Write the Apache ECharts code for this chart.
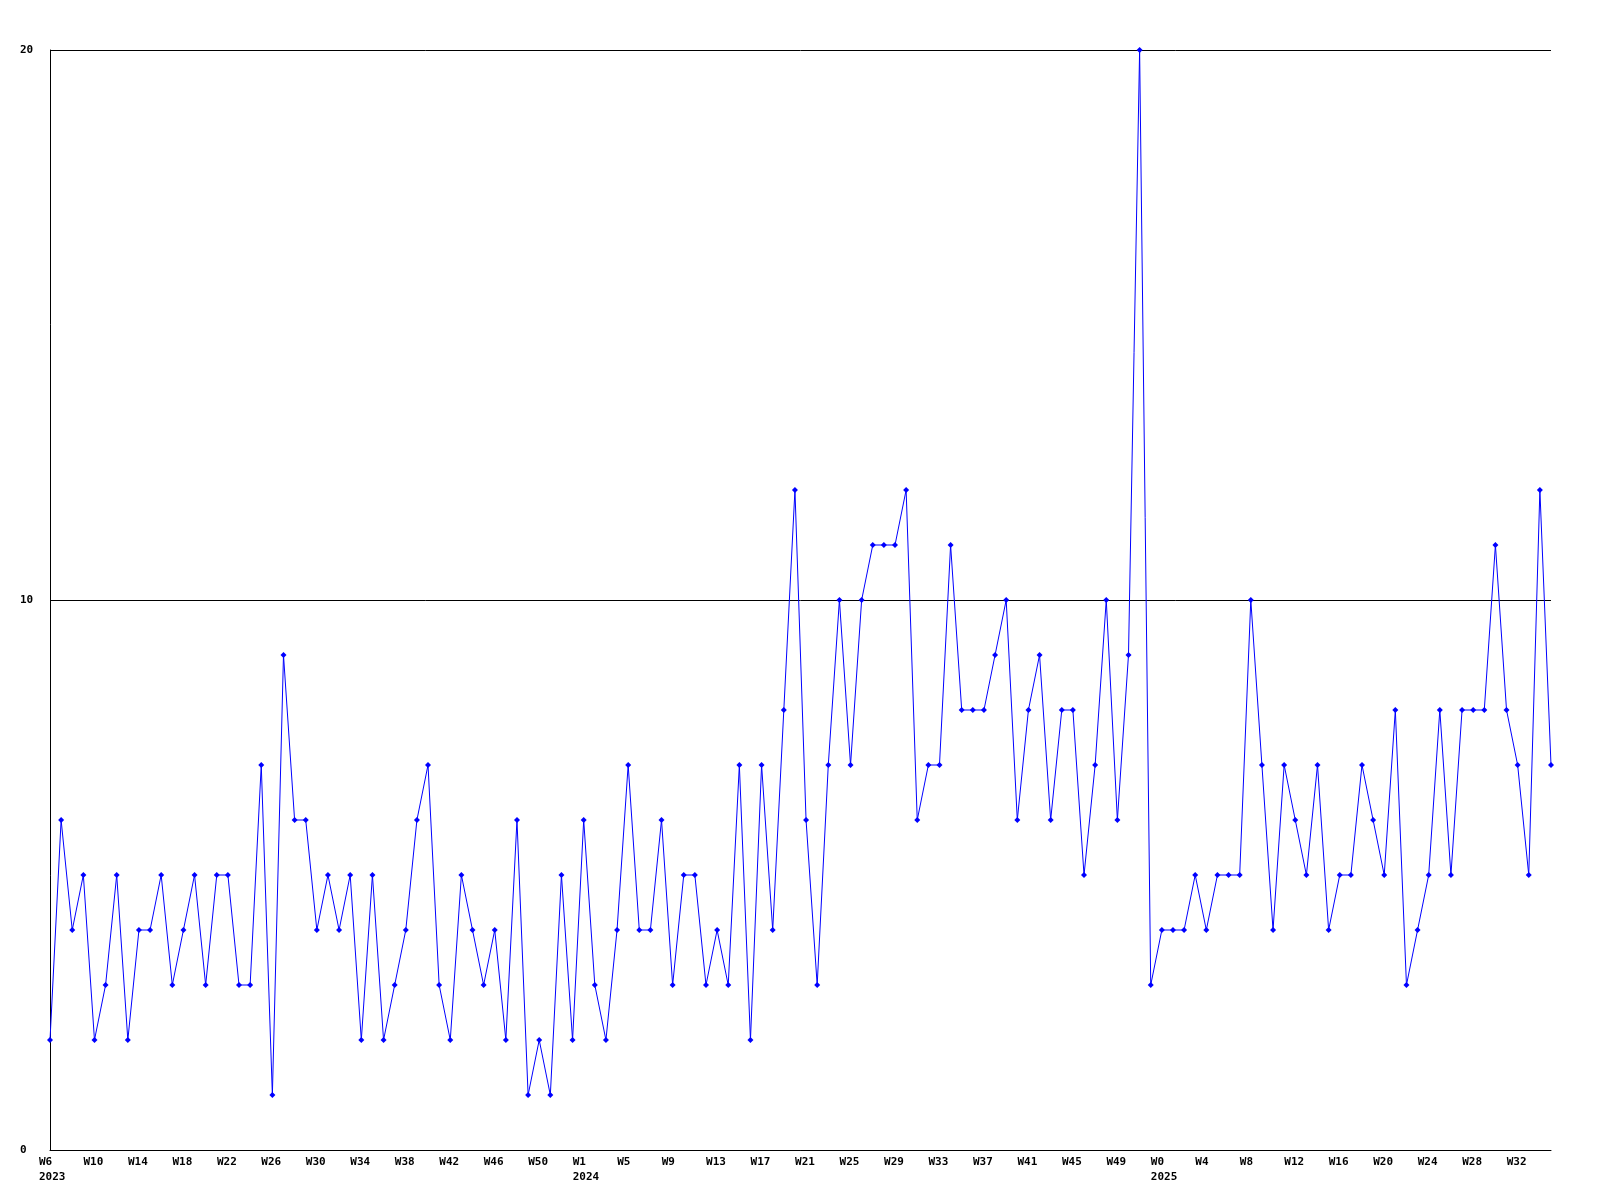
<!DOCTYPE html>
<html>
<head>
<meta charset="utf-8">
<script src="https://cdn.jsdelivr.net/npm/echarts@6/dist/echarts.min.js"></script>
<style>
html,body{margin:0;padding:0;background:#fff;}
#chart{width:1600px;height:1200px;}
</style>
</head>
<body>
<div id="chart"></div>
<script>
// Week ranges per year: [year, firstWeek, lastWeek]
const weekRanges = [[2023, 6, 53], [2024, 1, 52], [2025, 0, 35]];

// Weekly values (one per week, in order)
const values = [
  2,6,4,5,2,3,5,2,4,4,5,3,4,5,3,5,5,3,3,7,
  1,9,6,6,4,5,4,5,2,5,2,3,4,6,7,3,2,5,4,3,
  4,2,6,1,2,1,5,2,6,3,2,4,7,4,4,6,3,5,5,3,
  4,3,7,2,7,4,8,12,6,3,7,10,7,10,11,11,11,12,6,7,
  7,11,8,8,8,9,10,6,8,9,6,8,8,5,7,10,6,9,20,3,
  4,4,4,5,4,5,5,5,10,7,4,7,6,5,7,4,5,5,7,6,
  5,8,3,4,5,8,5,8,8,8,11,8,7,5,12,7
];

const yTicks = [0, 10, 20];

const categories = [];
const yearAt = {};
weekRanges.forEach(([yr, a, b]) => {
  yearAt[categories.length] = String(yr);
  for (let w = a; w <= b; w++) categories.push('W' + w);
});

const FONT = '"DejaVu Sans Mono", monospace';
const chart = echarts.init(document.getElementById('chart'), null, {renderer: 'canvas'});
chart.setOption({
  animation: false,
  backgroundColor: '#ffffff',
  grid: {left: 50, right: 49, top: 50, bottom: 50, containLabel: false},
  xAxis: {
    type: 'category',
    data: categories,
    boundaryGap: false,
    axisLine: {show: true, lineStyle: {color: '#000', width: 1}},
    axisTick: {show: false},
    splitLine: {show: false},
    axisLabel: {
      interval: 3,
      margin: 5,
      hideOverlap: false,
      showMinLabel: true,
      color: '#000',
      formatter: function (v, i) {
        return yearAt[i] !== undefined ? '{w|' + v + '}\n{w|' + yearAt[i] + '}' : '{w|' + v + '}';
      },
      rich: {
        w: {width: 22, align: 'left', fontFamily: FONT, fontWeight: 'bold', fontSize: 11, lineHeight: 15, color: '#000'}
      }
    }
  },
  yAxis: {
    type: 'value',
    min: yTicks[0],
    max: yTicks[yTicks.length - 1],
    interval: 10,
    axisLine: {show: true, lineStyle: {color: '#000', width: 1}},
    axisTick: {show: false},
    splitLine: {show: true, lineStyle: {color: '#000', width: 1}},
    axisLabel: {
      align: 'left',
      margin: 30,
      color: '#000',
      fontFamily: FONT,
      fontWeight: 'bold',
      fontSize: 11
    }
  },
  series: [{
    type: 'line',
    data: values,
    showAllSymbol: true,
    symbol: 'diamond',
    symbolSize: 6,
    itemStyle: {color: '#0000ff'},
    lineStyle: {color: '#0000ff', width: 1},
    emphasis: {disabled: true}
  }]
});
</script>
</body>
</html>
